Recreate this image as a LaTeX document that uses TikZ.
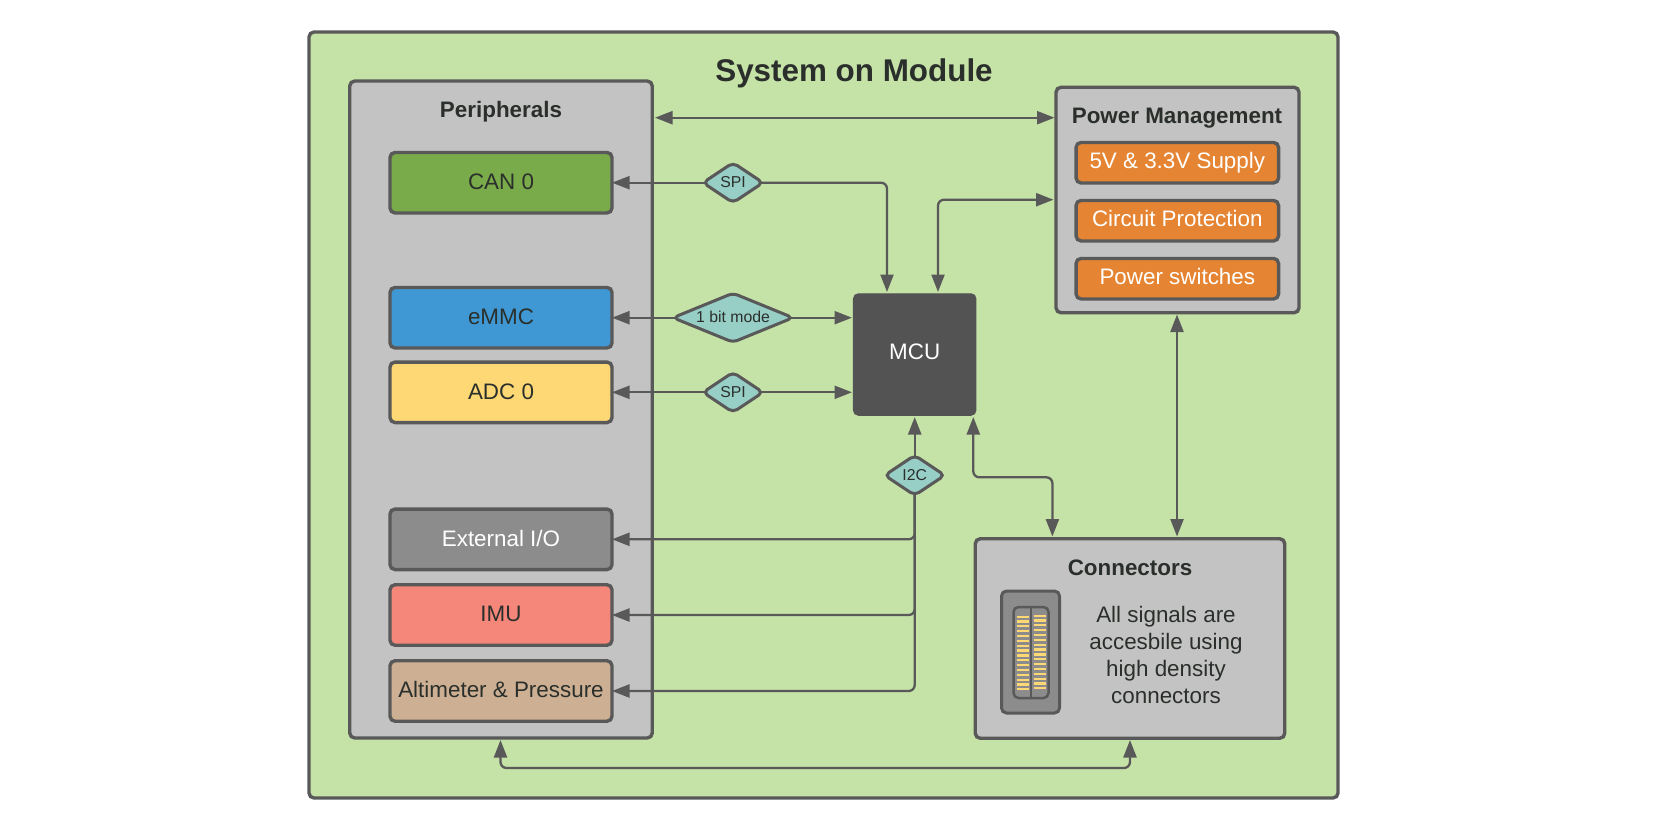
\documentclass[tikz,border=0pt]{standalone}
\usepackage{fontspec}
\setmainfont{Liberation Sans}
\usetikzlibrary{arrows.meta}
\usetikzlibrary{shapes.geometric}

\definecolor{moduleGreen}{HTML}{C5E2A7}
\definecolor{panelGrey}{HTML}{C3C3C3}
\definecolor{edgeGrey}{HTML}{595959}
\definecolor{inkGrey}{HTML}{2B2F2B}
\definecolor{mcuGrey}{HTML}{535353}
\definecolor{canGreen}{HTML}{7AAB4B}
\definecolor{emmcBlue}{HTML}{3F98D4}
\definecolor{adcYellow}{HTML}{FDD875}
\definecolor{ioGrey}{HTML}{8C8C8C}
\definecolor{imuRed}{HTML}{F5877A}
\definecolor{altTan}{HTML}{CDB093}
\definecolor{supplyOrange}{HTML}{E58533}
\definecolor{busTeal}{HTML}{97CEC6}

\tikzset{
    panel/.style={draw=edgeGrey, line width=3.4pt, rounded corners=5pt, outer sep=0pt, inner sep=0pt},
    periphbox/.style={panel, minimum width=222pt, minimum height=60.5pt,
        text height=18.5pt, text depth=5pt, font=\fontsize{22.4}{26}\selectfont, text=inkGrey},
    supplybox/.style={panel, minimum width=202.5pt, minimum height=40.5pt,
        text height=17pt, text depth=5pt, font=\fontsize{22.4}{26}\selectfont, text=white, fill=supplyOrange},
    title/.style={font=\fontsize{22.4}{26}\selectfont\bfseries, text=inkGrey, inner sep=0pt},
    busnode/.style={diamond, draw=edgeGrey, fill=busTeal, line width=3pt, rounded corners=5pt,
        inner sep=0pt, outer sep=0pt, aspect=1.4, text=inkGrey, text height=10pt, text depth=0pt,
        font=\fontsize{15.8}{18}\selectfont},
    spinode/.style={busnode, minimum width=60pt, minimum height=40pt},
    link/.style={draw=edgeGrey, line width=2.3pt, rounded corners=6pt, -{Triangle[length=17.5pt,width=13pt]}},
    buslink/.style={link, shorten <=-3pt},
    duplex/.style={link, {Triangle[length=17.5pt,width=13pt]}-{Triangle[length=17.5pt,width=13pt]}},
}

\begin{document}
\begin{tikzpicture}[x=1pt, y=-1pt]
    \useasboundingbox (0, 0) rectangle (1672, 831);

    % containers
    \node[panel, fill=moduleGreen, minimum width=1029pt, minimum height=766pt] (module) at (823.5, 415) {};
    \node[panel, fill=panelGrey, minimum width=302.5pt, minimum height=657pt] (periph) at (501, 409.5) {};
    \node[panel, fill=panelGrey, minimum width=243pt, minimum height=225.5pt] (power) at (1177.5, 200) {};
    \node[panel, fill=panelGrey, minimum width=309.5pt, minimum height=199.5pt] (conn) at (1130, 638.5) {};

    \node[font=\fontsize{31.4}{36}\selectfont\bfseries, text=inkGrey, inner sep=0pt] (moduletitle) at (854, 73) {System on Module};
    \node[title] (periphtitle) at (501, 111.5) {Peripherals};
    \node[title] (powertitle) at (1177, 118) {Power Management};
    \node[title] (conntitle) at (1130, 568) {Connectors};

    % peripherals
    \node[periphbox, fill=canGreen] (can) at (501, 182.7) {CAN 0};
    \node[periphbox, fill=emmcBlue] (emmc) at (501, 317.7) {eMMC};
    \node[periphbox, fill=adcYellow] (adc) at (501, 392.3) {ADC 0};
    \node[periphbox, fill=ioGrey, text=white] (extio) at (501, 539.3) {External I/O};
    \node[periphbox, fill=imuRed] (imu) at (501, 615) {IMU};
    \node[periphbox, fill=altTan] (alt) at (501, 691) {Altimeter \& Pressure};

    % power
    \node[supplybox] (supply) at (1177.3, 162.7) {5V \& 3.3V Supply};
    \node[supplybox] (protect) at (1177.3, 220.7) {Circuit Protection};
    \node[supplybox] (switches) at (1177.3, 278.7) {Power switches};

    \node[draw=mcuGrey, fill=mcuGrey, line width=1pt, rounded corners=5pt, minimum width=122.5pt, minimum height=121.5pt,
        inner sep=0pt, outer sep=0pt, text=white, text height=10pt, text depth=0pt,
        font=\fontsize{22.4}{26}\selectfont] (mcu) at (914.7, 354.5) {MCU};

    % connector icon
    \node[panel, fill=ioGrey, line width=3pt, minimum width=58pt, minimum height=122pt] (socket) at (1030.5, 652) {};
    \node[panel, fill=ioGrey, line width=2.5pt, minimum width=35pt, minimum height=91pt] (header) at (1031, 652.5) {};
    \draw[edgeGrey, line width=2pt] (header.north) -- (header.south);
    \foreach \n in {0,...,15} {
        \draw[adcYellow, line width=2.2pt] (1016.5, 616.7+4.84*\n) -- (1028.8, 616.7+4.84*\n);
        \draw[adcYellow, line width=2.2pt] (1033.5, 615.7+4.84*\n) -- (1046.2, 615.7+4.84*\n);
    }
    \node[align=center, inner sep=0pt, text=inkGrey, font=\fontsize{22.4}{26.7}\selectfont] (conntext) at (1166, 655)
        {All signals are\\accesbile using\\high density\\connectors};

    % buses
    \node[spinode] (spican) at (733, 182.7) {SPI};
    \node[busnode, aspect=2.4, minimum width=120pt, minimum height=49pt] (onebit) at (733, 317.7) {1 bit mode};
    \node[spinode] (spiadc) at (733, 392.3) {SPI};
    \node[spinode] (i2c) at (914.7, 475.3) {I2C};

    \coordinate (mcuTopA) at (887, 292);
    \coordinate (mcuTopB) at (938, 292);
    \coordinate (mcuLeftA) at (852, 317.7);
    \coordinate (mcuLeftB) at (852, 392.3);
    \coordinate (mcuBotA) at (914.7, 417);
    \coordinate (mcuBotB) at (973.3, 417);
    \coordinate (periphTop) at (655, 117.7);
    \coordinate (powerTop) at (1054.5, 117.7);
    \coordinate (powerMid) at (1053.5, 199.7);
    \coordinate (powerBot) at (1177, 314.5);
    \coordinate (connTop) at (1177, 536.5);
    \coordinate (connMcu) at (1052.4, 536.5);
    \coordinate (periphBot) at (500.5, 740);
    \coordinate (connBot) at (1130, 740);

    % links
    \draw[duplex] (periphTop) -- (powerTop);
    \draw[buslink] (spican) -- (can);
    \draw[buslink] (spican) -| (mcuTopA);
    \draw[duplex] (mcuTopB) |- (powerMid);
    \draw[buslink] (onebit) -- (emmc);
    \draw[buslink] (onebit) -- (mcuLeftA);
    \draw[buslink] (spiadc) -- (adc);
    \draw[buslink] (spiadc) -- (mcuLeftB);
    \draw[buslink] (i2c) -- (mcuBotA);
    \draw[buslink] (i2c) |- (extio);
    \draw[buslink] (i2c) |- (imu);
    \draw[buslink] (i2c) |- (alt);
    \draw[duplex] (mcuBotB) |- (1052.4, 477.3) -- (connMcu);
    \draw[duplex] (powerBot) -- (connTop);
    \draw[duplex] (periphBot) |- (815, 768) -| (connBot);
\end{tikzpicture}
\end{document}
